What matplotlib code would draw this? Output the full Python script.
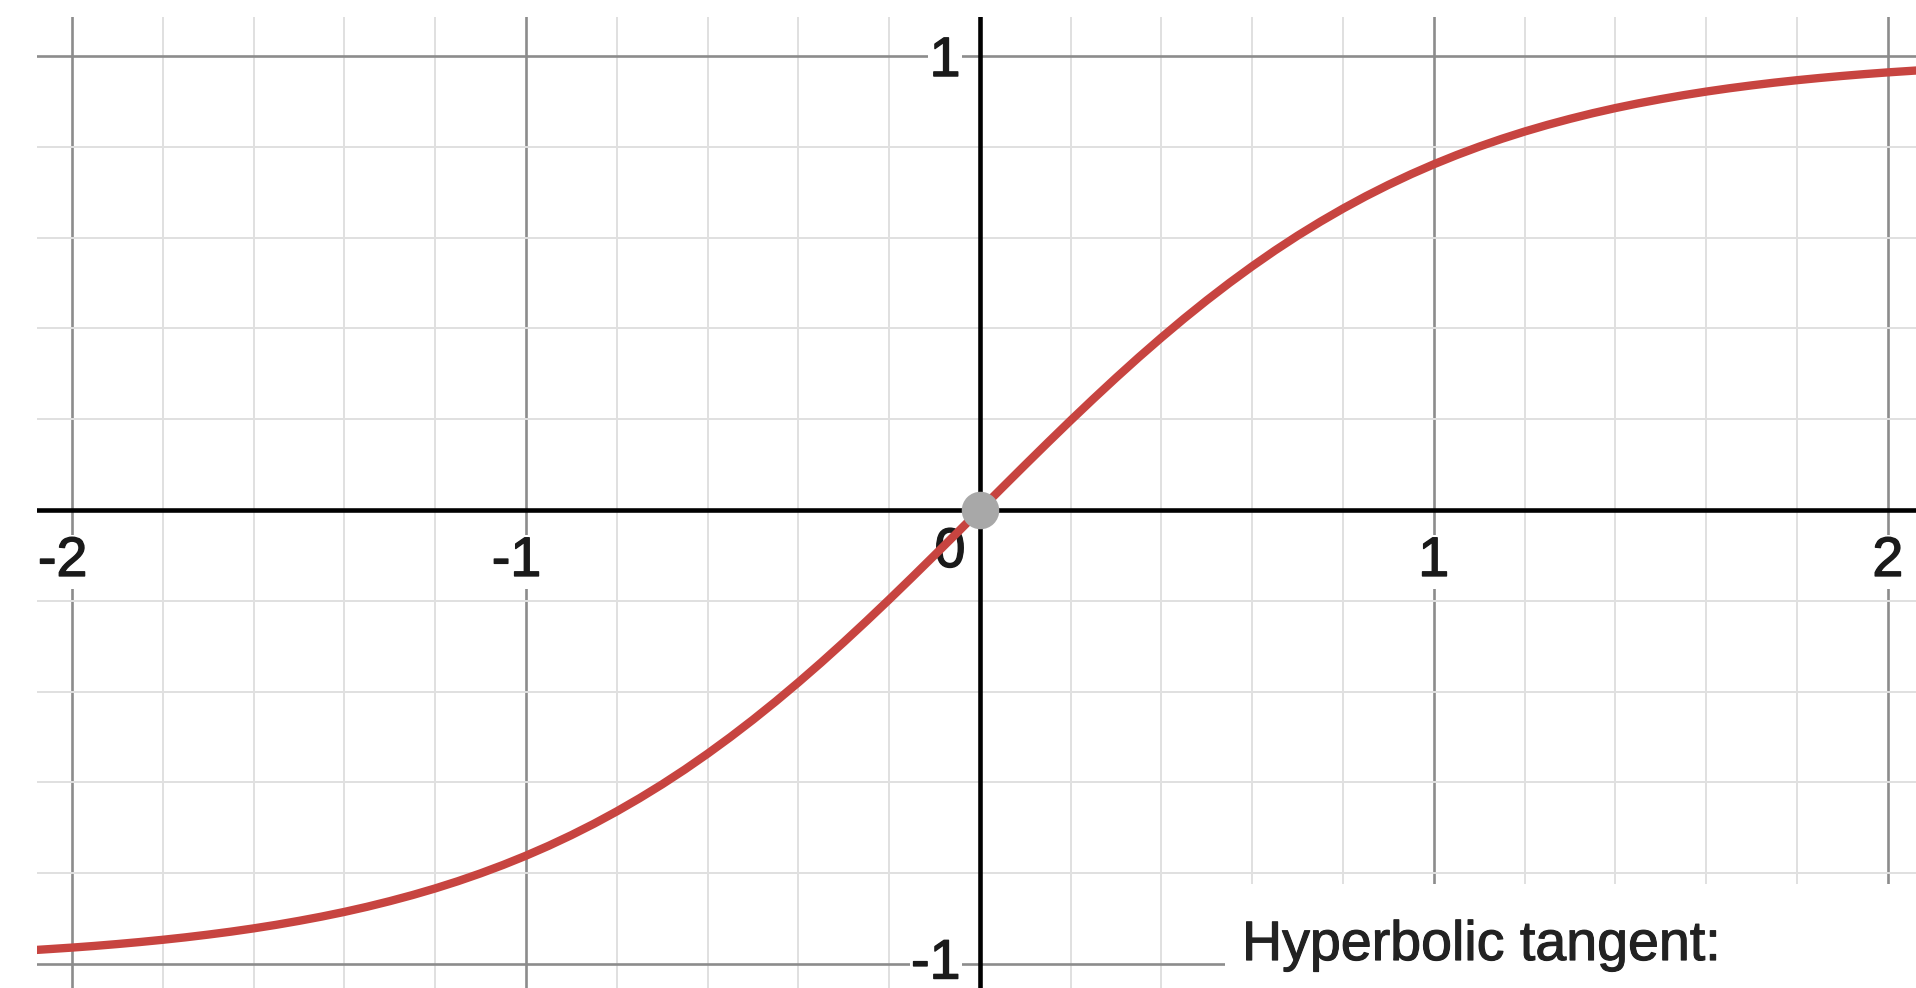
import matplotlib.pyplot as plt
import matplotlib.patheffects as pe
from matplotlib.patches import Rectangle

plt.rcParams['font.family'] = ['Liberation Sans', 'DejaVu Sans']

# tanh sampled every 0.05
x_vals = [-2.1, -2.05, -2.0, -1.95, -1.9, -1.85, -1.8, -1.75, -1.7, -1.65, -1.6,
          -1.55, -1.5, -1.45, -1.4, -1.35, -1.3, -1.25, -1.2, -1.15, -1.1,
          -1.05, -1.0, -0.95, -0.9, -0.85, -0.8, -0.75, -0.7, -0.65, -0.6,
          -0.55, -0.5, -0.45, -0.4, -0.35, -0.3, -0.25, -0.2, -0.15, -0.1,
          -0.05, 0.0, 0.05, 0.1, 0.15, 0.2, 0.25, 0.3, 0.35, 0.4,
          0.45, 0.5, 0.55, 0.6, 0.65, 0.7, 0.75, 0.8, 0.85, 0.9,
          0.95, 1.0, 1.05, 1.1, 1.15, 1.2, 1.25, 1.3, 1.35, 1.4,
          1.45, 1.5, 1.55, 1.6, 1.65, 1.7, 1.75, 1.8, 1.85, 1.9,
          1.95, 2.0, 2.05, 2.1]
y_vals = [-0.9705, -0.9673, -0.9640, -0.9603, -0.9562, -0.9517, -0.9468, -0.9414, -0.9354, -0.9289, -0.9217,
          -0.9138, -0.9051, -0.8957, -0.8854, -0.8741, -0.8617, -0.8483, -0.8337, -0.8178, -0.8005,
          -0.7818, -0.7616, -0.7398, -0.7163, -0.6911, -0.6640, -0.6351, -0.6044, -0.5717, -0.5370,
          -0.5005, -0.4621, -0.4219, -0.3799, -0.3364, -0.2913, -0.2449, -0.1974, -0.1489, -0.0997,
          -0.0500, 0.0, 0.0500, 0.0997, 0.1489, 0.1974, 0.2449, 0.2913, 0.3364, 0.3799,
          0.4219, 0.4621, 0.5005, 0.5370, 0.5717, 0.6044, 0.6351, 0.6640, 0.6911, 0.7163,
          0.7398, 0.7616, 0.7818, 0.8005, 0.8178, 0.8337, 0.8483, 0.8617, 0.8741, 0.8854,
          0.8957, 0.9051, 0.9138, 0.9217, 0.9289, 0.9354, 0.9414, 0.9468, 0.9517, 0.9562,
          0.9603, 0.9640, 0.9673, 0.9705]

point_x = [0]
point_y = [0]

x_ticks = [-2, -1, 1, 2]
title = 'Hyperbolic tangent:'

fig = plt.figure(figsize=(19.16, 9.88), dpi=100)
ax = fig.add_axes([37 / 1916, 0, 1879 / 1916, 971 / 988])
ax.set_xlim(-2.077, 2.062)
ax.set_ylim(-1.053, 1.086)

# grid: majors every 1, minors every 0.2
ax.set_xticks([-2, -1, 0, 1, 2])
ax.set_yticks([-1, 0, 1])
ax.set_xticks([i / 5 for i in range(-10, 11)], minor=True)
ax.set_yticks([i / 5 for i in range(-5, 6)], minor=True)
ax.grid(which='minor', color='#e0e0e0', lw=1.4, zorder=0)
ax.grid(which='major', color='#8c8c8c', lw=1.9, zorder=0.5)
ax.tick_params(which='both', length=0, labelbottom=False, labelleft=False)
for s in ax.spines.values():
    s.set_visible(False)

ax.axhline(0, color='black', lw=3.3, zorder=2)
ax.axvline(0, color='black', lw=3.3, zorder=2)

heavy = [pe.withStroke(linewidth=1.0, foreground='#1a1a1a')]
lab = dict(fontsize=40, color='#1a1a1a', va='baseline', zorder=3,
           textcoords='offset points', path_effects=heavy,
           bbox=dict(boxstyle='square,pad=0.02', fc='white', ec='none'))
for v in x_ticks:
    ax.annotate(str(v), xy=(v, 0), xytext=(11, -47.5), ha='right', **lab)
ax.annotate('1', xy=(0, 1), xytext=(-14, -14.4), ha='right', **lab)
ax.annotate('-1', xy=(0, -1), xytext=(-14, -10.5), ha='right', **lab)
ax.annotate('0', xy=(0, 0), xytext=(-21.6, -41), textcoords='offset points',
            ha='center', va='baseline', fontsize=40, color='#1a1a1a', zorder=3,
            path_effects=heavy)

ax.plot(x_vals, y_vals, color='#c74440', lw=6, solid_capstyle='round',
        solid_joinstyle='round', zorder=4)
ax.plot(point_x, point_y, 'o', ms=27, color='#a8a8a8', mec='none', zorder=5)

# caption box in the lower right
ax.add_patch(Rectangle((0.632, 0), 0.368, 0.107, transform=ax.transAxes,
                       fc='white', ec='none', zorder=6, clip_on=False))
ax.text(0.6413, 0.0288, title, transform=ax.transAxes, fontsize=40,
        color='#222222', ha='left', va='baseline', zorder=7,
        path_effects=[pe.withStroke(linewidth=0.8, foreground='#222222')])

fig.savefig('out.png', dpi=100)
